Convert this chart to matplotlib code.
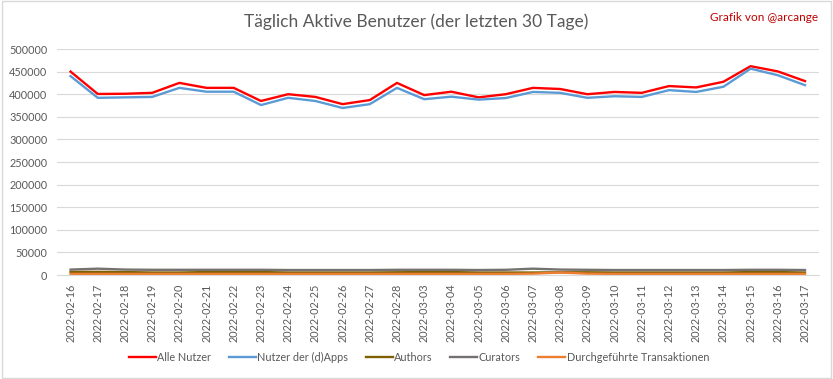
import numpy as np
import matplotlib
matplotlib.use('Agg')
import matplotlib.pyplot as plt
from matplotlib.patches import Rectangle

plt.rcParams['font.family'] = ['Lato', 'DejaVu Sans']

dates = ['2022-02-16', '2022-02-17', '2022-02-18', '2022-02-19', '2022-02-20',
         '2022-02-21', '2022-02-22', '2022-02-23', '2022-02-24', '2022-02-25',
         '2022-02-26', '2022-02-27', '2022-02-28', '2022-03-03', '2022-03-04',
         '2022-03-05', '2022-03-06', '2022-03-07', '2022-03-08', '2022-03-09',
         '2022-03-10', '2022-03-11', '2022-03-12', '2022-03-13', '2022-03-14',
         '2022-03-15', '2022-03-16', '2022-03-17']

alle_nutzer = [450000, 400500, 401000, 403000, 425000, 414000, 414000, 385000,
               400000, 394000, 378000, 387000, 425000, 398000, 405500, 393000,
               400000, 414000, 411500, 400000, 405000, 403000, 418000, 415000,
               427500, 462000, 450500, 429000]
dapps_nutzer = [440000, 392000, 393000, 394000, 414000, 405500, 405500, 376000,
                392000, 385000, 369500, 378000, 414000, 389000, 394500, 388000,
                391500, 405000, 403000, 392000, 395500, 394000, 409000, 405000,
                416500, 456500, 442000, 420000]
authors = [7000, 7000, 6500, 5500, 5500, 6500, 6500, 6500, 5500, 5500, 5500,
           5500, 6000, 6500, 6500, 5500, 5500, 5500, 6000, 6000, 5500, 5500,
           5500, 5500, 5500, 6500, 6500, 5500]
curators = [12000, 14000, 12000, 11500, 11500, 11500, 11500, 11500, 11000,
            11000, 11000, 11000, 11500, 11500, 11500, 11000, 11500, 14000,
            12000, 11500, 11000, 11000, 11000, 11000, 11000, 11500, 11500, 11000]
transaktionen = [2500, 2500, 2500, 2500, 2500, 2500, 2500, 2500, 2500, 2500,
                 2500, 2500, 2500, 2500, 2500, 2500, 2500, 3000, 5500, 3000,
                 2500, 2500, 2500, 2500, 2500, 2500, 2500, 2500]

fig = plt.figure(figsize=(8.33, 3.79), dpi=100)
ax = fig.add_axes([0.0684, 0.2744, 0.9143, 0.5963])

x = np.arange(len(dates))
ax.plot(x, alle_nutzer, color='#ff0000', lw=1.7, label='Alle Nutzer')
ax.plot(x, dapps_nutzer, color='#5b9bd5', lw=1.7, label='Nutzer der (d)Apps')
ax.plot(x, authors, color='#7f6000', lw=1.7, label='Authors')
ax.plot(x, curators, color='#767171', lw=1.7, label='Curators')
ax.plot(x, transaktionen, color='#ed7d31', lw=1.7, label='Durchgeführte Transaktionen')

ax.set_xlim(-0.5, len(dates) - 0.5)
ax.set_ylim(0, 500000)
ax.set_yticks(np.arange(0, 500001, 50000))
ax.set_xticks(x)
ax.set_xticklabels(dates, rotation=90)
ax.grid(axis='y', color='#d9d9d9', lw=0.8)
ax.set_axisbelow(True)
for s in ['top', 'right', 'left']:
    ax.spines[s].set_visible(False)
ax.spines['bottom'].set_color('#d9d9d9')
ax.tick_params(axis='both', length=0, labelsize=7.8, colors='#595959')
ax.tick_params(axis='x', pad=6)
ax.tick_params(axis='y', pad=7)

fig.text(0.5, 0.942, 'Täglich Aktive Benutzer (der letzten 30 Tage)', ha='center',
         va='center', fontsize=12.5, color='#595959')
fig.text(0.982, 0.955, 'Grafik von @arcange', ha='right', va='center',
         fontsize=8.5, color='#c00000')

fig.legend(loc='center', bbox_to_anchor=(0.503, 0.058), ncol=5, frameon=False,
           fontsize=7.8, labelcolor='#595959', handlelength=2.5, columnspacing=1.6,
           handletextpad=0.15)

fig.patches.append(Rectangle((0.002, 0.003), 0.995, 0.994, transform=fig.transFigure,
                             fill=False, edgecolor='#d9d9d9', lw=1))

fig.savefig('out.png', dpi=100)
